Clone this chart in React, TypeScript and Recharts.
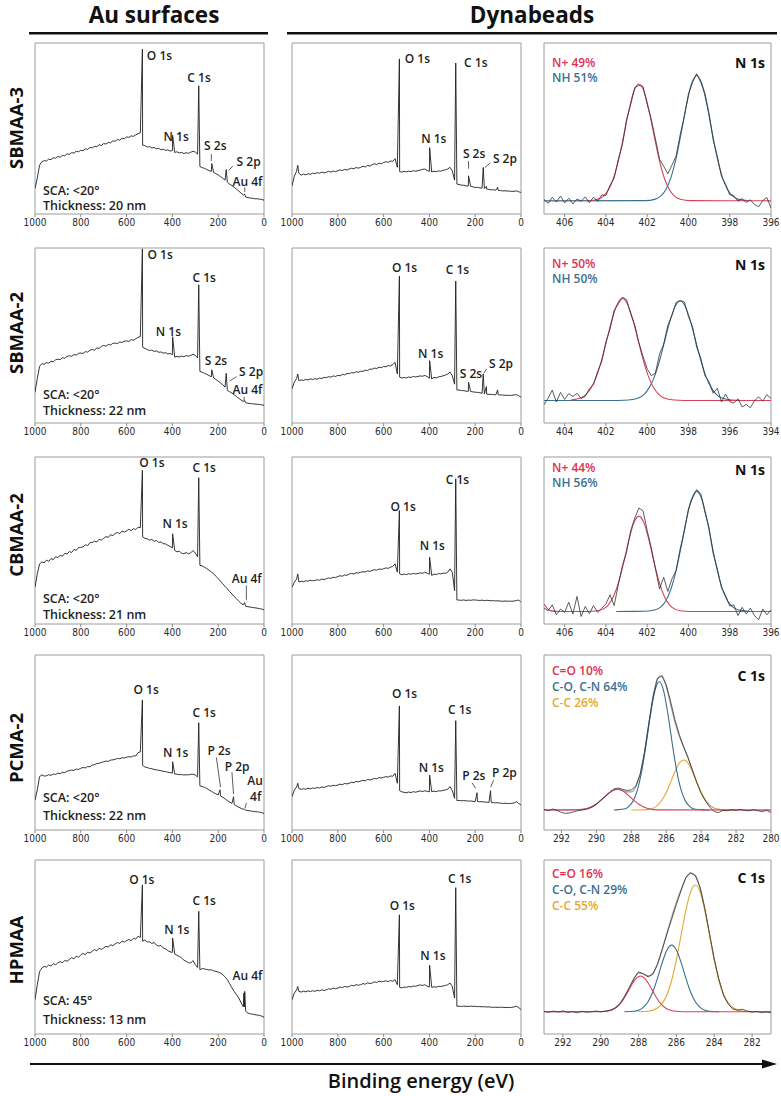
import React from "react";
import {
  LineChart,
  Line,
  XAxis,
  YAxis,
  ReferenceArea,
  ReferenceDot,
  ReferenceLine,
} from "recharts";

// survey scans: binding energy grid (eV), intensity in % of panel height
const surveyEnergy = [
  1000, 990, 980, 970, 960, 950, 940, 930, 920, 910,
  900, 890, 880, 870, 860, 850, 840, 830, 820, 810,
  800, 790, 780, 770, 760, 750, 740, 730, 720, 710,
  700, 690, 680, 670, 660, 650, 640, 630, 620, 610,
  600, 590, 580, 570, 560, 550, 540, 530, 520, 510,
  500, 490, 480, 470, 460, 450, 440, 430, 420, 410,
  400, 390, 380, 370, 360, 350, 340, 330, 320, 310,
  300, 290, 280, 270, 260, 250, 240, 230, 220, 210,
  200, 190, 180, 170, 160, 150, 140, 130, 120, 110,
  100, 90, 80, 70, 60, 50, 40, 30, 20, 10,
  0,
];

const auSbmaa3 = [
  15.0, 21.0, 28.5, 30.6, 31.2, 31.0, 32.1, 31.8, 32.9, 32.6,
  33.6, 33.2, 34.3, 34.0, 35.2, 34.9, 35.9, 35.6, 36.7, 36.4,
  37.3, 37.0, 38.1, 37.8, 38.9, 38.7, 39.6, 39.4, 40.5, 40.1,
  41.2, 40.9, 41.9, 41.6, 42.8, 42.5, 43.6, 43.2, 44.3, 44.0,
  45.1, 44.8, 45.7, 45.4, 46.3, 46.9, 47.4, 40.3, 40.0, 39.2,
  39.4, 38.6, 38.9, 38.1, 38.4, 37.6, 37.9, 37.2, 37.5, 36.8,
  37.1, 36.0, 36.4, 35.7, 36.0, 35.4, 35.8, 35.5, 36.1, 36.7,
  36.2, 35.0, 27.8, 27.1, 26.7, 26.0, 25.4, 24.9, 24.3, 23.6,
  22.8, 21.9, 20.9, 19.8, 18.6, 17.5, 16.6, 15.6, 14.5, 13.4,
  12.2, 11.1, 9.9, 9.6, 9.3, 9.2, 8.9, 8.9, 8.7, 8.5,
  8.1,
];
const auSbmaa3Peaks = [[531, 96.5], [399, 46], [285, 75], [228, 29.5], [165, 26], [84, 11.5]];

const auSbmaa2 = [
  17.5, 25.4, 32.4, 33.9, 33.6, 34.5, 34.2, 35.3, 35.0, 36.1,
  36.5, 36.2, 37.3, 37.0, 38.1, 38.4, 38.1, 39.1, 38.8, 39.8,
  40.0, 39.7, 40.8, 40.5, 41.6, 42.0, 41.7, 42.9, 42.6, 43.8,
  44.3, 43.9, 44.9, 44.6, 45.5, 45.7, 45.4, 46.3, 46.0, 46.8,
  46.9, 46.6, 47.6, 47.3, 48.1, 49.0, 49.4, 43.3, 42.6, 42.0,
  41.4, 41.7, 40.9, 41.2, 40.4, 40.6, 39.9, 40.2, 39.5, 39.7,
  39.0, 37.6, 38.1, 37.7, 38.2, 37.9, 38.5, 38.2, 38.6, 39.4,
  38.6, 37.2, 29.5, 29.0, 28.4, 27.8, 27.1, 26.4, 25.8, 24.9,
  23.9, 22.9, 21.9, 20.5, 18.6, 17.9, 17.1, 16.1, 15.1, 14.1,
  13.1, 12.3, 11.6, 11.3, 11.1, 11.0, 10.8, 10.7, 10.6, 10.4,
  10.1,
];
const auSbmaa2Peaks = [[531, 99.5], [399, 49.3], [285, 79], [228, 30.4], [165, 28.4], [84, 12.8]];

const auCbmaa2 = [
  22.0, 30.0, 36.0, 37.2, 36.6, 38.3, 37.5, 39.2, 38.6, 40.3,
  39.8, 41.2, 40.6, 42.3, 41.9, 43.4, 42.8, 44.6, 44.1, 45.7,
  45.9, 46.2, 47.5, 46.9, 48.7, 48.8, 49.6, 49.1, 50.7, 50.2,
  51.3, 52.4, 51.8, 53.5, 52.9, 54.2, 54.8, 54.1, 55.7, 55.0,
  55.8, 56.7, 55.9, 57.1, 56.5, 58.0, 57.6, 52.2, 51.3, 51.0,
  50.2, 50.7, 49.5, 50.0, 48.8, 49.2, 48.1, 48.0, 47.1, 46.4,
  45.6, 44.1, 43.2, 43.6, 42.4, 42.1, 42.8, 42.0, 42.6, 44.0,
  42.5, 40.2, 35.1, 34.8, 34.0, 33.2, 32.2, 31.1, 30.1, 28.6,
  27.2, 25.6, 24.1, 22.5, 21.1, 19.4, 18.0, 16.4, 15.1, 13.6,
  12.3, 11.5, 10.6, 10.4, 10.1, 9.9, 9.7, 9.5, 9.2, 9.0,
  8.4,
];
const auCbmaa2Peaks = [[531, 92], [399, 54], [285, 87.6], [85, 12.8]];

const auPcma2 = [
  17.1, 22.9, 30.5, 31.5, 30.8, 31.0, 31.6, 31.2, 32.0, 31.7,
  32.5, 32.2, 33.0, 32.8, 33.6, 33.9, 34.3, 34.0, 34.8, 34.6,
  35.3, 35.7, 35.5, 36.3, 36.1, 37.1, 37.4, 37.9, 38.2, 38.6,
  39.0, 39.4, 39.2, 39.9, 40.1, 40.4, 40.9, 40.7, 41.3, 41.1,
  41.6, 41.9, 41.7, 42.4, 42.3, 44.2, 44.6, 37.0, 36.0, 35.7,
  35.2, 35.0, 34.6, 34.4, 34.1, 33.9, 33.5, 33.4, 33.0, 32.8,
  32.5, 32.0, 31.9, 31.6, 31.7, 31.4, 31.6, 31.5, 31.8, 31.9,
  31.4, 30.4, 25.2, 24.8, 24.4, 23.7, 22.9, 22.1, 21.3, 20.7,
  20.0, 19.4, 18.7, 17.8, 16.8, 16.0, 15.2, 14.5, 13.7, 13.0,
  12.4, 11.9, 11.4, 11.1, 10.9, 10.7, 10.5, 10.4, 10.2, 9.9,
  9.5,
];
const auPcma2Peaks = [[531, 74.3], [399, 39], [285, 61.3], [192, 23], [133, 19], [84, 11.8]];

const auHpmaa = [
  19.7, 28.3, 35.9, 37.9, 38.9, 38.4, 39.7, 39.0, 40.4, 39.8,
  40.9, 41.6, 40.9, 42.3, 41.8, 42.8, 43.9, 43.2, 44.8, 44.1,
  45.5, 46.3, 45.6, 47.1, 46.5, 47.6, 48.5, 47.8, 49.3, 48.6,
  49.5, 50.4, 49.9, 51.3, 50.7, 51.8, 52.6, 52.0, 53.4, 52.8,
  53.7, 54.3, 53.6, 55.0, 54.5, 56.2, 55.4, 53.3, 54.1, 52.9,
  53.0, 52.0, 52.6, 51.1, 50.5, 50.9, 49.4, 48.9, 47.9, 47.2,
  46.9, 46.0, 45.2, 44.6, 43.7, 42.5, 41.8, 41.0, 40.8, 42.2,
  39.9, 38.2, 36.9, 37.6, 37.4, 37.1, 36.8, 36.9, 36.3, 36.0,
  35.6, 35.0, 34.1, 32.8, 31.2, 28.9, 26.5, 24.4, 22.6, 20.7,
  17.9, 15.6, 13.1, 12.0, 11.6, 11.4, 11.1, 10.9, 10.7, 10.3,
  9.6,
];
const auHpmaaPeaks = [[531, 85.7], [399, 55.1], [285, 70.5], [88, 23.5], [86, 15.5], [84, 24.5]];

const dbSbmaa3 = [
  16.5, 22.0, 25.0, 23.8, 22.7, 23.3, 22.9, 23.6, 23.2, 23.9,
  23.6, 24.2, 23.8, 24.5, 24.0, 24.4, 24.9, 24.5, 25.1, 24.8,
  25.3, 25.8, 25.4, 26.1, 25.7, 26.3, 26.8, 26.4, 27.2, 26.8,
  27.3, 27.9, 27.5, 28.4, 28.0, 28.8, 29.4, 28.9, 29.8, 29.4,
  30.1, 30.6, 30.2, 31.0, 30.8, 32.4, 27.3, 24.8, 24.5, 25.0,
  24.6, 25.1, 24.8, 25.3, 25.0, 25.4, 25.7, 26.1, 26.3, 25.4,
  25.0, 24.6, 25.0, 24.7, 25.2, 25.0, 25.6, 25.9, 26.3, 27.3,
  25.2, 19.8, 17.5, 17.2, 16.9, 16.8, 16.5, 16.4, 16.2, 15.9,
  15.5, 15.6, 15.3, 15.1, 14.9, 14.6, 14.4, 14.1, 14.2, 13.9,
  13.8, 13.7, 13.5, 13.6, 13.4, 13.4, 13.2, 13.3, 13.5, 13.0,
  12.6,
];
const dbSbmaa3Peaks = [[975, 28.5], [531, 90.7], [399, 38.8], [285, 88.3], [229, 22.3], [165, 27.2], [151, 16.2], [102, 15.6]];

const dbSbmaa2 = [
  19.5, 23.3, 25.4, 24.2, 24.6, 24.3, 24.9, 24.6, 25.2, 24.9,
  25.3, 25.0, 25.7, 25.4, 26.1, 25.9, 26.5, 26.2, 26.9, 26.6,
  27.2, 27.0, 27.8, 27.5, 28.3, 28.2, 28.8, 28.6, 29.3, 29.0,
  29.6, 29.5, 30.2, 30.0, 30.8, 30.7, 31.4, 31.1, 31.9, 31.6,
  32.3, 32.1, 32.8, 32.6, 33.4, 34.7, 28.0, 26.2, 25.7, 26.0,
  25.8, 26.3, 26.0, 26.6, 26.3, 26.6, 26.9, 26.7, 27.2, 26.5,
  25.6, 25.2, 26.1, 25.8, 26.4, 26.5, 27.0, 27.4, 28.0, 29.1,
  27.0, 22.2, 18.9, 18.8, 18.6, 18.5, 18.2, 18.1, 18.0, 17.8,
  17.6, 17.5, 17.3, 17.0, 16.6, 16.5, 16.3, 16.4, 16.2, 16.1,
  16.2, 16.0, 16.0, 15.8, 15.9, 15.7, 15.8, 16.0, 16.2, 15.6,
  14.8,
];
const dbSbmaa2Peaks = [[975, 28], [531, 83.9], [399, 35.6], [285, 81.1], [229, 23.3], [165, 28], [151, 20.8], [102, 18.9]];

const dbCbmaa2 = [
  22.0, 25.0, 26.8, 25.1, 25.6, 25.3, 25.9, 25.6, 26.2, 25.9,
  26.1, 26.5, 26.2, 26.9, 26.6, 27.1, 27.6, 27.3, 28.0, 27.8,
  28.4, 28.9, 28.6, 29.4, 29.1, 30.0, 30.3, 30.0, 30.7, 30.5,
  31.0, 31.3, 31.1, 31.8, 31.5, 32.1, 32.5, 32.2, 32.9, 32.7,
  33.1, 33.6, 33.3, 34.1, 34.4, 36.0, 31.0, 30.0, 29.5, 29.9,
  29.6, 30.1, 29.8, 30.3, 30.0, 30.2, 30.6, 30.4, 31.0, 30.4,
  29.8, 29.1, 29.9, 29.6, 30.2, 30.0, 30.5, 30.3, 31.0, 33.0,
  31.0, 20.0, 14.4, 14.3, 14.2, 14.4, 14.1, 14.3, 14.2, 14.4,
  14.4, 14.2, 14.1, 14.3, 14.0, 14.2, 14.1, 13.9, 14.0, 13.8,
  13.9, 13.7, 13.6, 13.8, 13.6, 13.7, 13.6, 13.8, 14.0, 14.4,
  13.0,
];
const dbCbmaa2Peaks = [[975, 30], [531, 68], [399, 40], [285, 87]];

const dbPcma2 = [
  19.0, 22.9, 24.5, 23.8, 23.2, 23.6, 23.3, 23.9, 23.5, 24.0,
  23.8, 24.3, 24.0, 24.6, 24.3, 24.8, 25.3, 25.0, 25.6, 25.3,
  25.7, 26.2, 25.9, 26.6, 26.3, 26.7, 27.3, 27.0, 27.8, 27.5,
  28.0, 28.4, 28.1, 28.9, 28.6, 29.0, 29.5, 29.2, 30.0, 29.7,
  30.1, 30.5, 30.2, 30.9, 30.7, 32.4, 26.7, 22.5, 21.8, 21.5,
  21.3, 21.7, 21.4, 21.9, 21.6, 22.0, 22.3, 22.0, 22.4, 22.1,
  21.8, 21.9, 22.2, 21.9, 22.4, 22.3, 22.7, 22.9, 23.3, 24.8,
  22.6, 18.1, 16.8, 16.9, 16.7, 16.8, 16.7, 16.5, 16.6, 16.4,
  16.2, 16.3, 16.1, 16.2, 16.0, 15.9, 15.8, 15.7, 15.6, 15.5,
  15.6, 15.3, 15.2, 15.3, 15.1, 15.2, 15.2, 15.5, 16.2, 15.1,
  14.3,
];
const dbPcma2Peaks = [[975, 26.7], [531, 70.9], [399, 31.4], [285, 62.5], [192, 21.3], [133, 22.5]];

const dbHpmaa = [
  19.7, 23.5, 25.3, 24.5, 24.1, 24.6, 24.2, 24.8, 24.4, 24.9,
  24.5, 25.1, 24.8, 25.4, 25.0, 25.4, 26.0, 25.7, 26.4, 26.0,
  26.4, 27.0, 26.6, 27.4, 27.0, 27.3, 28.0, 27.6, 28.4, 28.0,
  28.3, 29.0, 28.6, 29.4, 29.0, 29.3, 30.0, 29.6, 30.4, 30.0,
  30.2, 30.6, 30.1, 30.7, 30.3, 31.2, 28.3, 26.8, 26.5, 27.0,
  26.8, 27.3, 27.0, 27.6, 27.4, 27.9, 28.2, 27.9, 28.3, 27.5,
  27.0, 26.8, 27.2, 26.9, 27.4, 27.3, 27.6, 27.9, 28.3, 29.3,
  27.3, 20.7, 15.9, 16.0, 15.8, 16.0, 15.9, 15.8, 16.0, 15.9,
  15.9, 15.7, 15.8, 15.6, 15.7, 15.5, 15.6, 15.4, 15.3, 15.4,
  15.3, 15.4, 15.3, 15.2, 15.3, 15.2, 15.3, 15.6, 15.9, 15.2,
  14.0,
];
const dbHpmaaPeaks = [[975, 27.3], [531, 68.5], [399, 39.5], [285, 84.1]];

// high resolution scans
const n1sEnergyA = [
  407, 406.8, 406.6, 406.4, 406.2, 406, 405.8, 405.6, 405.4, 405.2,
  405, 404.8, 404.6, 404.4, 404.2, 404, 403.8, 403.6, 403.4, 403.2,
  403, 402.8, 402.6, 402.4, 402.2, 402, 401.8, 401.6, 401.4, 401.2,
  401, 400.8, 400.6, 400.4, 400.2, 400, 399.8, 399.6, 399.4, 399.2,
  399, 398.8, 398.6, 398.4, 398.2, 398, 397.8, 397.6, 397.4, 397.2,
  397, 396.8, 396.6, 396.4, 396.2, 396,
];
const n1sEnergyB = [
  405, 404.8, 404.6, 404.4, 404.2, 404, 403.8, 403.6, 403.4, 403.2,
  403, 402.8, 402.6, 402.4, 402.2, 402, 401.8, 401.6, 401.4, 401.2,
  401, 400.8, 400.6, 400.4, 400.2, 400, 399.8, 399.6, 399.4, 399.2,
  399, 398.8, 398.6, 398.4, 398.2, 398, 397.8, 397.6, 397.4, 397.2,
  397, 396.8, 396.6, 396.4, 396.2, 396, 395.8, 395.6, 395.4, 395.2,
  395, 394.8, 394.6, 394.4, 394.2, 394,
];
const c1sEnergyA = [
  293, 292.75, 292.5, 292.25, 292, 291.75, 291.5, 291.25, 291, 290.75,
  290.5, 290.25, 290, 289.75, 289.5, 289.25, 289, 288.75, 288.5, 288.25,
  288, 287.75, 287.5, 287.25, 287, 286.75, 286.5, 286.25, 286, 285.75,
  285.5, 285.25, 285, 284.75, 284.5, 284.25, 284, 283.75, 283.5, 283.25,
  283, 282.75, 282.5, 282.25, 282, 281.75, 281.5, 281.25, 281, 280.75,
  280.5, 280.25, 280,
];
const c1sEnergyB = [
  293, 292.75, 292.5, 292.25, 292, 291.75, 291.5, 291.25, 291, 290.75,
  290.5, 290.25, 290, 289.75, 289.5, 289.25, 289, 288.75, 288.5, 288.25,
  288, 287.75, 287.5, 287.25, 287, 286.75, 286.5, 286.25, 286, 285.75,
  285.5, 285.25, 285, 284.75, 284.5, 284.25, 284, 283.75, 283.5, 283.25,
  283, 282.75, 282.5, 282.25, 282, 281.75, 281.5, 281.25, 281,
];

const n1sSbmaa3 = [
  8.5, 6.2, 9.8, 7.0, 10.5, 6.5, 9.2, 5.9, 8.8, 7.5,
  10.0, 6.6, 9.9, 7.4, 11.2, 10.8, 16.8, 21.0, 32.0, 40.6,
  55.1, 64.0, 74.0, 75.2, 74.5, 64.2, 55.3, 44.0, 32.0, 27.9,
  23.5, 28.6, 33.8, 46.4, 56.9, 70.2, 77.0, 82.0, 76.8, 70.5,
  58.6, 43.2, 33.6, 22.0, 17.4, 11.2, 10.6, 7.5, 9.0, 6.8,
  8.3, 5.5, 4.2, 7.9, 9.6, 3.5,
];
const sbmaa3NPlus = [
  [404.9, 7.7], [404.4, 8.6], [404.15, 10.2], [403.9, 13.7], [403.65, 20.3], [403.4, 30.9],
  [403.15, 44.9], [402.9, 59.8], [402.65, 71.6], [402.4, 76], [402.15, 71.6], [401.9, 59.8],
  [401.65, 44.9], [401.4, 30.9], [401.15, 20.3], [400.9, 13.7], [400.65, 10.2], [400.4, 8.6],
  [399.9, 7.8], [396, 7.7],
];
const sbmaa3NH = [
  [407, 7.7], [402.1, 7.8], [401.6, 8.7], [401.35, 10.4], [401.1, 14.2], [400.85, 21.3],
  [400.6, 32.5], [400.35, 47.6], [400.1, 63.6], [399.85, 76.2], [399.6, 81], [399.35, 76.2],
  [399.1, 63.6], [398.85, 47.6], [398.6, 32.5], [398.35, 21.3], [398.1, 14.2], [397.85, 10.4],
  [397.6, 8.7], [397.1, 7.8],
];

const n1sSbmaa2 = [
  10.5, 14.2, 18.8, 12.0, 17.5, 13.5, 16.8, 15.2, 16.9, 14.0,
  15.3, 19.6, 22.0, 29.4, 35.2, 46.3, 53.6, 64.5, 68.0, 71.9,
  70.5, 62.4, 56.0, 45.8, 38.0, 31.0, 27.0, 28.5, 39.5, 45.1,
  55.8, 61.5, 68.9, 70.0, 69.2, 60.8, 55.0, 43.3, 37.0, 27.0,
  23.5, 17.0, 19.8, 12.0, 16.5, 12.2, 11.4, 13.8, 9.2, 10.6,
  8.7, 12.8, 14.9, 12.5, 16.2, 14.0,
];
const sbmaa2NPlus = [
  [403.7, 13.1], [403.2, 14.4], [402.95, 16.5], [402.7, 20.4], [402.45, 26.9], [402.2, 36.3],
  [401.95, 47.8], [401.7, 59.3], [401.45, 67.9], [401.2, 71.2], [400.95, 67.9], [400.7, 59.3],
  [400.45, 47.8], [400.2, 36.3], [399.95, 26.9], [399.7, 20.4], [399.45, 16.5], [399.2, 14.4],
  [398.7, 13.1], [398.2, 12.9], [394, 12.9],
];
const sbmaa2NH = [
  [405, 12.9], [401.4, 12.9], [400.9, 13.1], [400.4, 14.4], [400.15, 16.4], [399.9, 20.2],
  [399.65, 26.5], [399.4, 35.7], [399.15, 46.9], [398.9, 58.1], [398.65, 66.5], [398.4, 69.7],
  [398.15, 66.5], [397.9, 58.1], [397.65, 46.9], [397.4, 35.7], [397.15, 26.5], [396.9, 20.2],
  [396.65, 16.4], [396.4, 14.4], [395.9, 13.1], [395.4, 12.9],
];

const n1sCbmaa2 = [
  9.5, 8.0, 11.5, 5.5, 9.0, 7.0, 13.0, 6.0, 16.5, 4.5,
  10.5, 6.2, 11.0, 7.0, 9.5, 12.0, 17.5, 11.0, 23.5, 35.0,
  43.0, 55.9, 63.5, 69.5, 67.8, 56.0, 45.5, 33.0, 21.0, 28.0,
  19.5, 27.0, 32.0, 45.0, 55.5, 69.0, 75.5, 80.5, 78.0, 66.8,
  57.5, 42.0, 33.0, 21.8, 17.0, 10.8, 11.5, 5.0, 10.0, 6.0,
  9.5, 5.0, 2.5, 9.0, 5.5, 8.5,
];
const cbmaa2NPlus = [
  [407, 12.0], [406.7, 8.0], [406.3, 7.5], [404.9, 7.5], [404.4, 7.9], [404.15, 8.9],
  [403.9, 11.2], [403.65, 16.0], [403.4, 24.3], [403.15, 36.2], [402.9, 49.6], [402.65, 60.4],
  [402.4, 64.6], [402.15, 60.4], [401.9, 49.6], [401.65, 36.2], [401.4, 24.3], [401.15, 16.0],
  [400.9, 11.2], [400.65, 8.9], [400.4, 7.9], [399.9, 7.5], [396, 7.5],
];
const cbmaa2NH = [
  [403.5, 7.5], [402.1, 7.6], [401.6, 8.5], [401.35, 10.1], [401.1, 13.8], [400.85, 20.8],
  [400.6, 31.9], [400.35, 46.6], [400.1, 62.4], [399.85, 74.7], [399.6, 79.4], [399.35, 74.7],
  [399.1, 62.4], [398.85, 46.6], [398.6, 31.9], [398.35, 20.8], [398.1, 13.8], [397.85, 10.1],
  [397.6, 8.5], [397.1, 7.6],
];

const c1sPcma2 = [
  11.8, 11.0, 12.0, 11.2, 10.0, 9.5, 9.8, 10.5, 11.2, 11.5,
  12.0, 13.0, 14.6, 17.0, 19.0, 21.4, 23.5, 24.0, 23.2, 22.6,
  22.9, 25.0, 31.5, 44.0, 60.8, 76.5, 86.5, 88.0, 83.0, 73.5,
  63.0, 54.5, 47.5, 41.5, 34.0, 27.0, 21.0, 16.5, 13.0, 10.5,
  10.0, 11.2, 11.0, 11.6, 11.3, 11.8, 11.2, 11.0, 11.6, 11.0,
  10.5, 11.3, 10.0,
];
const pcma2CO = [
  [293, 11.4], [291.3, 11.5], [290.8, 11.8], [290.3, 13.2], [290.05, 14.6], [289.8, 16.5],
  [289.55, 18.7], [289.3, 21.0], [289.05, 22.6], [288.8, 23.2], [288.55, 22.6], [288.3, 21.0],
  [288.05, 18.7], [287.8, 16.5], [287.55, 14.6], [287.3, 13.2], [286.8, 11.8], [286.3, 11.5],
  [280, 11.4],
];
const pcma2CN = [
  [289, 11.4], [288.9, 11.5], [288.4, 12.0], [288.15, 13.4], [287.9, 16.5], [287.65, 22.9],
  [287.4, 33.8], [287.15, 49.1], [286.9, 66.0], [286.65, 79.5], [286.4, 84.7], [286.15, 79.5],
  [285.9, 66.0], [285.65, 49.1], [285.4, 33.8], [285.15, 22.9], [284.9, 16.5], [284.65, 13.4],
  [284.4, 12.0], [283.9, 11.5], [283.5, 11.4],
];
const pcma2CC = [
  [288, 11.4], [287.5, 11.4], [287, 11.8], [286.75, 12.5], [286.5, 14.1], [286.25, 17.0],
  [286, 21.4], [285.75, 27.2], [285.5, 33.4], [285.25, 38.2], [285, 40.0], [284.75, 38.2],
  [284.5, 33.4], [284.25, 27.2], [284, 21.4], [283.75, 17.0], [283.5, 14.1], [283.25, 12.5],
  [283, 11.8], [282.5, 11.4], [282, 11.4],
];
const pcma2Env = [
  [293, 11.4], [291, 11.6], [290.5, 12.4], [290, 14.9], [289.5, 19.2], [289, 22.8],
  [288.75, 23.3], [288.5, 22.7], [288.25, 21.8], [288, 21.8], [287.75, 24.6], [287.5, 31.7],
  [287.25, 44.3], [287, 60.5], [286.75, 76.2], [286.5, 86.6], [286.25, 88.3], [286, 82.0],
  [285.75, 71.7], [285.5, 61.5], [285.25, 53.5], [285, 47.2], [284.75, 41.1], [284.5, 34.4],
  [284.25, 27.5], [284, 21.4], [283.75, 16.9], [283.5, 14.1], [283.25, 12.5], [283, 11.8],
  [282.5, 11.4], [280, 11.4],
];

const c1sHpmaa = [
  13.0, 12.5, 13.2, 12.6, 13.3, 12.4, 12.9, 12.2, 13.1, 12.5,
  12.8, 13.2, 12.7, 13.1, 13.6, 14.9, 17.2, 21.5, 26.5, 32.0,
  35.8, 34.5, 32.8, 34.2, 40.0, 48.5, 57.5, 66.0, 74.5, 82.5,
  90.0, 92.5, 91.0, 84.2, 72.3, 57.6, 43.0, 31.2, 22.0, 17.0,
  14.2, 13.8, 14.2, 13.2, 12.6, 12.9, 12.3, 12.7, 12.2,
];
const hpmaaCO = [
  [293, 12.8], [290.2, 12.8], [289.9, 12.9], [289.65, 13.2], [289.4, 13.9], [289.15, 15.5],
  [288.9, 18.4], [288.65, 22.7], [288.4, 27.6], [288.15, 31.7], [287.9, 33.3], [287.65, 31.7],
  [287.4, 27.6], [287.15, 22.7], [286.9, 18.4], [286.65, 15.5], [286.4, 13.9], [286.15, 13.2],
  [285.9, 12.9], [285.4, 12.8], [281, 12.8],
];
const hpmaaCN = [
  [288.75, 12.8], [288.25, 13.1], [288, 13.7], [287.75, 15.3], [287.5, 18.5], [287.25, 24.1],
  [287, 32.1], [286.75, 41.0], [286.5, 48.3], [286.25, 51.1], [286, 48.3], [285.75, 41.0],
  [285.5, 32.1], [285.25, 24.1], [285, 18.5], [284.75, 15.3], [284.5, 13.7], [284.25, 13.1],
  [283.75, 12.8],
];
const hpmaaCC = [
  [288, 12.8], [287.5, 13.1], [287, 14.9], [286.75, 17.6], [286.5, 22.6], [286.25, 30.9],
  [286, 42.7], [285.75, 57.0], [285.5, 71.1], [285.25, 81.7], [285, 85.6], [284.75, 81.7],
  [284.5, 71.1], [284.25, 57.0], [284, 42.7], [283.75, 30.9], [283.5, 22.6], [283.25, 17.6],
  [283, 14.9], [282.5, 13.1], [282, 12.8],
];
const hpmaaEnv = [
  [293, 12.8], [290, 12.9], [289.5, 13.5], [289.25, 14.8], [289, 17.1], [288.75, 21.2],
  [288.5, 26.2], [288.25, 31.4], [288, 35.0], [287.75, 34.6], [287.5, 33.4], [287.25, 35.0],
  [287, 40.4], [286.75, 48.8], [286.5, 58.2], [286.25, 67.5], [286, 75.8], [285.75, 83.2],
  [285.5, 89.6], [285.25, 92.6], [285, 91.2], [284.75, 84.2], [284.5, 72.0], [284.25, 57.3],
  [284, 42.7], [283.75, 30.9], [283.5, 22.6], [283.25, 17.6], [283, 14.9], [282.5, 13.1],
  [281, 12.8],
];

const sampleNames = ["SBMAA-3", "SBMAA-2", "CBMAA-2", "PCMA-2", "HPMAA"];
const scaText = ["SCA: <20°", "SCA: <20°", "SCA: <20°", "SCA: <20°", "SCA: 45°"];
const thicknessText = ["Thickness: 20 nm", "Thickness: 22 nm", "Thickness: 21 nm", "Thickness: 22 nm", "Thickness: 13 nm"];
const surveyTicks = [0, 200, 400, 600, 800, 1000];

// ---- layout / styling ----
const sans = "'Open Sans', 'DejaVu Sans', sans-serif";
const narrow = "'Liberation Sans Narrow', 'DejaVu Sans Condensed', 'Roboto Condensed', Roboto, sans-serif";
const RED = "#d9405a";
const BLUE = "#3b6f8f";
const GOLD = "#e2a833";
const RED_TXT = "#e2304d";
const BLUE_TXT = "#3a7092";
const GOLD_TXT = "#e4a92c";

const cols = [{ x: 35, w: 229 }, { x: 292, w: 229 }, { x: 544, w: 227 }];
const rows = [
  { y: 43, h: 171 },
  { y: 248, h: 175 },
  { y: 457, h: 167 },
  { y: 655, h: 175 },
  { y: 860, h: 174 },
];
const rowLabelY = [128, 333, 535, 748, 950];
const scaY = [[190, 205], [394, 410], [598, 614], [797, 815], [1000, 1019]];

type Pt = { e: number; v: number };
const onGrid = (energy: number[], values: number[], extra: number[][] = []): Pt[] =>
  [...energy.map((e, i) => ({ e, v: values[i] })), ...extra.map(([e, v]) => ({ e, v }))].sort(
    (a, b) => b.e - a.e
  );
const fromPairs = (p: number[][]): Pt[] => p.map(([e, v]) => ({ e, v })).sort((a, b) => b.e - a.e);

const surveys = [
  { r: 0, c: 0, v: auSbmaa3, p: auSbmaa3Peaks,
    notes: [["O 1s", 516, 92.3], ["N 1s", 443, 45], ["C 1s", 339, 79.7], ["S 2s", 266, 40.2], ["S 2p", 124, 30.5], ["Au 4f", 142, 18.9]],
    leaders: [[230, 35, 230, 31], [136, 28, 154, 25.5], [84, 15.5, 84, 12.8]] },
  { r: 1, c: 0, v: auSbmaa2, p: auSbmaa2Peaks,
    notes: [["O 1s", 513, 96], ["N 1s", 477, 52.3], ["C 1s", 317, 83], ["S 2s", 263, 35.8], ["S 2p", 113, 29.5], ["Au 4f", 142, 19]],
    leaders: [[120, 26.5, 150, 24], [87, 15, 87, 12.5]] },
  { r: 2, c: 0, v: auCbmaa2, p: auCbmaa2Peaks,
    notes: [["O 1s", 549, 96.5], ["N 1s", 448, 60], ["C 1s", 317, 93.5], ["Au 4f", 145, 27]],
    leaders: [[77, 23, 77, 14.5]] },
  { r: 3, c: 0, v: auPcma2, p: auPcma2Peaks,
    notes: [["O 1s", 574, 80.4], ["N 1s", 445, 44.2], ["C 1s", 317, 67], ["P 2s", 251, 45.3], ["P 2p", 176, 36.2], ["Au", 77, 28.2], ["4f", 65, 19]],
    leaders: [[208, 41.5, 190, 24.5], [140, 33, 133, 20.5], [77, 15.5, 83, 12.5]] },
  { r: 4, c: 0, v: auHpmaa, p: auHpmaaPeaks,
    notes: [["O 1s", 593, 88.5], ["N 1s", 440, 59.8], ["C 1s", 317, 76.5], ["Au 4f", 142, 33.7]],
    leaders: [] },
  { r: 0, c: 1, v: dbSbmaa3, p: dbSbmaa3Peaks,
    notes: [["O 1s", 512, 90.7], ["N 1s", 440, 44], ["C 1s", 253, 88.7], ["S 2s", 258, 35.5], ["S 2p", 127, 32.4]],
    leaders: [[229, 31, 229, 26.5], [134, 30, 158, 27]] },
  { r: 1, c: 1, v: dbSbmaa2, p: dbSbmaa2Peaks,
    notes: [["O 1s", 568, 89], ["N 1s", 454, 39.8], ["C 1s", 333, 87.7], ["S 2s", 272, 28], ["S 2p", 144, 34.1]],
    leaders: [[150, 31, 162, 28.5]] },
  { r: 2, c: 1, v: dbCbmaa2, p: dbCbmaa2Peaks,
    notes: [["O 1s", 574, 70], ["N 1s", 447, 47], ["C 1s", 333, 86.4]],
    leaders: [] },
  { r: 3, c: 1, v: dbPcma2, p: dbPcma2Peaks,
    notes: [["O 1s", 568, 78], ["N 1s", 451, 35.8], ["C 1s", 323, 69], ["P 2s", 261, 30.9], ["P 2p", 131, 32.8]],
    leaders: [[214, 27, 198, 23.8], [120, 28.5, 132, 24.5]] },
  { r: 4, c: 1, v: dbHpmaa, p: dbHpmaaPeaks,
    notes: [["O 1s", 578, 73.8], ["N 1s", 444, 45], ["C 1s", 323, 89.5]],
    leaders: [] },
];

const hires = [
  { r: 0, domain: [396, 407], ticks: [396, 398, 400, 402, 404, 406], title: "N 1s",
    raw: onGrid(n1sEnergyA, n1sSbmaa3), comps: [[sbmaa3NH, BLUE], [sbmaa3NPlus, RED]], env: null,
    legend: [["N+ 49%", RED_TXT], ["NH 51%", BLUE_TXT]], ly: [62, 77], ty: 62 },
  { r: 1, domain: [394, 405], ticks: [394, 396, 398, 400, 402, 404], title: "N 1s",
    raw: onGrid(n1sEnergyB, n1sSbmaa2), comps: [[sbmaa2NH, BLUE], [sbmaa2NPlus, RED]], env: null,
    legend: [["N+ 50%", RED_TXT], ["NH 50%", BLUE_TXT]], ly: [263, 278], ty: 264 },
  { r: 2, domain: [396, 407], ticks: [396, 398, 400, 402, 404, 406], title: "N 1s",
    raw: onGrid(n1sEnergyA, n1sCbmaa2), comps: [[cbmaa2NH, BLUE], [cbmaa2NPlus, RED]], env: null,
    legend: [["N+ 44%", RED_TXT], ["NH 56%", BLUE_TXT]], ly: [467, 482], ty: 469 },
  { r: 3, domain: [280, 293], ticks: [280, 282, 284, 286, 288, 290, 292], title: "C 1s",
    raw: onGrid(c1sEnergyA, c1sPcma2), comps: [[pcma2CC, GOLD], [pcma2CN, BLUE], [pcma2CO, RED]], env: pcma2Env,
    legend: [["C=O 10%", RED_TXT], ["C-O, C-N 64%", BLUE_TXT], ["C-C 26%", GOLD_TXT]], ly: [670, 686, 702], ty: 675 },
  { r: 4, domain: [281, 293], ticks: [282, 284, 286, 288, 290, 292], title: "C 1s",
    raw: onGrid(c1sEnergyB, c1sHpmaa), comps: [[hpmaaCC, GOLD], [hpmaaCN, BLUE], [hpmaaCO, RED]], env: hpmaaEnv,
    legend: [["C=O 16%", RED_TXT], ["C-O, C-N 29%", BLUE_TXT], ["C-C 55%", GOLD_TXT]], ly: [873, 889, 905], ty: 877 },
];

type Series = { data: Pt[]; color: string; width: number; smooth?: boolean };

function Panel({ box, domain, ticks, series, notes = [], leaders = [] }: any) {
  const pad = 18;
  const top = 9;
  return (
    <div style={{ position: "absolute", left: box.x - pad, top: box.y - top }}>
      <LineChart
        width={box.w + pad * 2}
        height={box.h + 22 + top}
        margin={{ top, right: pad, bottom: 0, left: pad }}
      >
        <XAxis
          type="number"
          dataKey="e"
          domain={domain}
          ticks={ticks}
          reversed
          allowDataOverflow
          interval={0}
          height={22}
          tickSize={3}
          axisLine={false}
          tickLine={{ stroke: "#8a8a8a" }}
          tick={{ fontSize: 10, fill: "#2a2a2a", fontFamily: narrow }}
        />
        <YAxis type="number" hide domain={[0, 100]} allowDataOverflow />
        <ReferenceArea
          x1={domain[0]}
          x2={domain[1]}
          y1={0}
          y2={100}
          fill="none"
          stroke="#9c9c9c"
          strokeWidth={1}
        />
        {series.map((s: Series, i: number) => (
          <Line
            key={i}
            data={s.data}
            dataKey="v"
            type={s.smooth ? "monotone" : "linear"}
            stroke={s.color}
            strokeWidth={s.width}
            dot={false}
            activeDot={false}
            isAnimationActive={false}
          />
        ))}
        {leaders.map((l: number[], i: number) => (
          <ReferenceLine
            key={"l" + i}
            segment={[{ x: l[0], y: l[1] }, { x: l[2], y: l[3] }]}
            stroke="#333"
            strokeWidth={0.8}
          />
        ))}
        {notes.map((n: any[], i: number) => (
          <ReferenceDot
            key={"n" + i}
            x={n[1]}
            y={n[2]}
            r={0}
            fill="none"
            stroke="none"
            label={{
              value: n[0],
              position: "right",
              offset: 1,
              fontSize: 12,
              fontWeight: 600,
              fill: "#1e1e1e",
              fontFamily: sans,
            }}
          />
        ))}
      </LineChart>
    </div>
  );
}

export default function App() {
  return (
    <div
      style={{
        position: "absolute",
        left: 0,
        top: 0,
        width: 781,
        height: 1096,
        background: "#fff",
        overflow: "hidden",
      }}
    >
      {surveys.map((s, i) => {
        const box = { x: cols[s.c].x, w: cols[s.c].w, y: rows[s.r].y, h: rows[s.r].h };
        return (
          <Panel
            key={"s" + i}
            box={box}
            domain={[0, 1000]}
            ticks={surveyTicks}
            series={[{ data: onGrid(surveyEnergy, s.v, s.p), color: "#1f1f1f", width: 0.9 }]}
            notes={s.notes}
            leaders={s.leaders}
          />
        );
      })}
      {hires.map((h, i) => {
        const box = { x: cols[2].x, w: cols[2].w, y: rows[h.r].y, h: rows[h.r].h };
        const series: Series[] = [];
        if (h.env) series.push({ data: fromPairs(h.env), color: "#a0a0a0", width: 1.1, smooth: true });
        h.comps.forEach(([p, col]: any) => series.push({ data: fromPairs(p), color: col, width: 1.1, smooth: true }));
        series.push({ data: h.raw, color: "#333", width: 0.8 });
        return <Panel key={"h" + i} box={box} domain={h.domain} ticks={h.ticks} series={series} />;
      })}

      <svg
        width={781}
        height={1096}
        style={{ position: "absolute", left: 0, top: 0, pointerEvents: "none" }}
        fontFamily={sans}
      >
        <text x={154} y={23} textAnchor="middle" fontSize={22.5} fontWeight={700} fill="#111">
          Au surfaces
        </text>
        <text x={532} y={23} textAnchor="middle" fontSize={22.5} fontWeight={700} fill="#111">
          Dynabeads
        </text>
        <rect x={29} y={32} width={239} height={2.5} fill="#111" />
        <rect x={287} y={32} width={490} height={2.5} fill="#111" />

        {sampleNames.map((n, i) => (
          <text
            key={n}
            transform={`translate(23, ${rowLabelY[i]}) rotate(-90)`}
            textAnchor="middle"
            fontSize={18.5}
            fontWeight={700}
            fill="#111"
          >
            {n}
          </text>
        ))}

        {scaText.map((t, i) => (
          <g key={"sca" + i} fontSize={12.5} fontWeight={600} fill="#1e1e1e">
            <text x={43} y={scaY[i][0]} dominantBaseline="central">
              {t}
            </text>
            <text x={43} y={scaY[i][1]} dominantBaseline="central">
              {thicknessText[i]}
            </text>
          </g>
        ))}

        {hires.map((h, i) => (
          <g key={"hl" + i}>
            {h.legend.map(([t, col]: any, j: number) => (
              <text
                key={t}
                x={552}
                y={h.ly[j]}
                dominantBaseline="central"
                fontSize={12}
                fontWeight={600}
                fill={col}
              >
                {t}
              </text>
            ))}
            <text
              x={765}
              y={h.ty}
              textAnchor="end"
              dominantBaseline="central"
              fontSize={14}
              fontWeight={700}
              fill="#111"
            >
              {h.title}
            </text>
          </g>
        ))}

        <rect x={30} y={1063} width={735} height={2} fill="#111" />
        <polygon points="762,1059.5 777,1064 762,1068.5" fill="#111" />
        <text x={421} y={1088} textAnchor="middle" fontSize={20} fontWeight={600} fill="#111">
          Binding energy (eV)
        </text>
      </svg>
    </div>
  );
}
